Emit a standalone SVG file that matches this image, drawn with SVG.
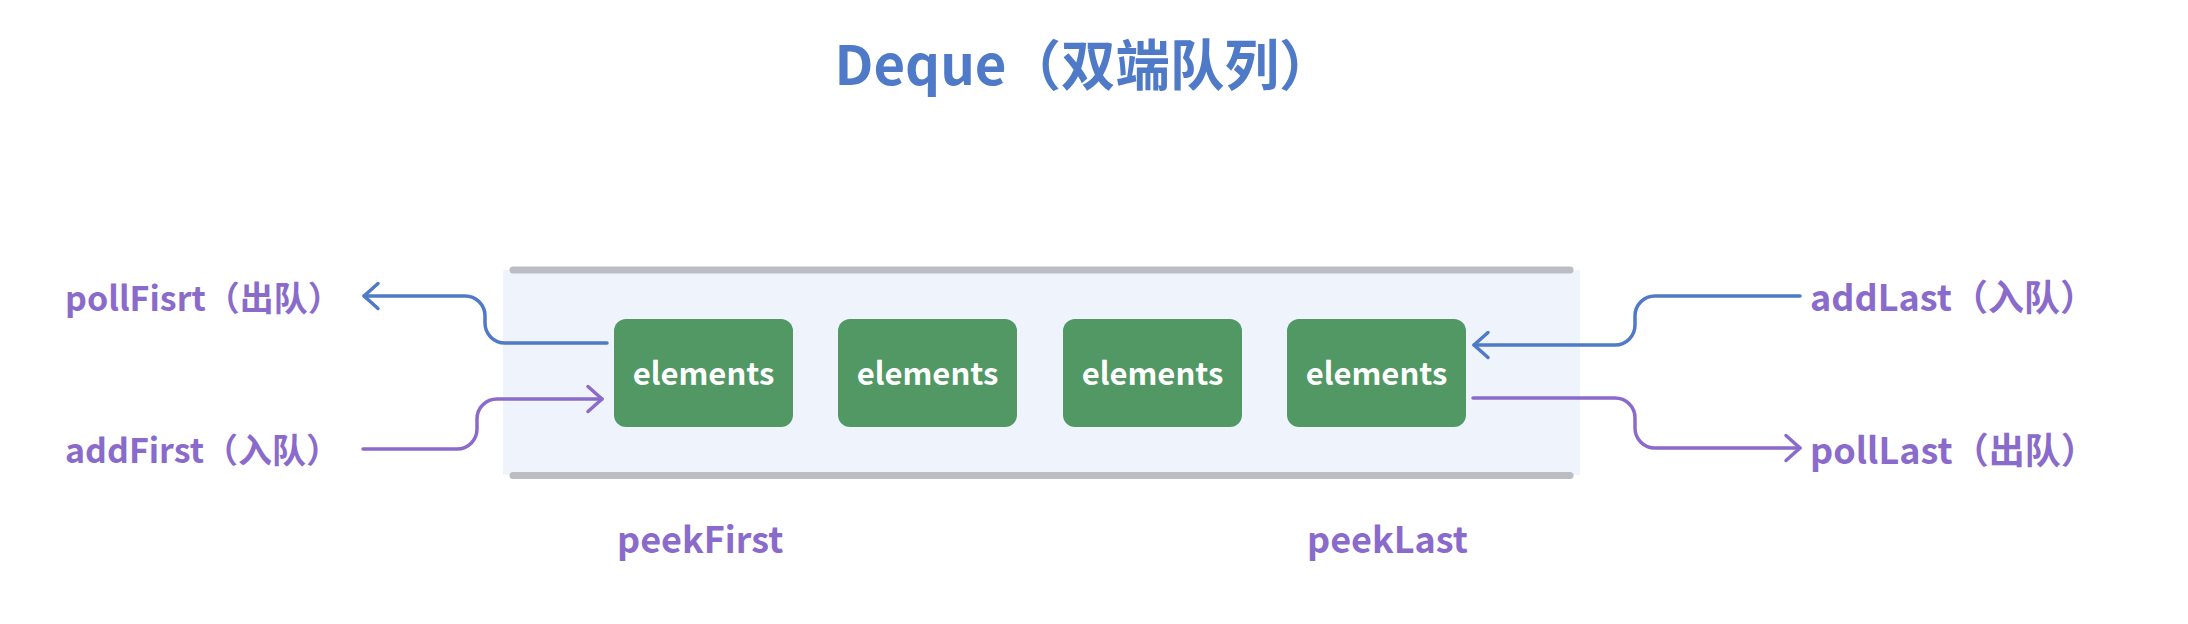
<svg xmlns="http://www.w3.org/2000/svg" width="2188" height="624" viewBox="0 0 2188 624">
<style>
text{font-family:"Noto Sans CJK SC","Noto Sans",sans-serif;font-weight:bold}
.title{font-size:54.5px;fill:#4f7ac8}
.lbl{font-size:34px;fill:#8a6bcb}
.lbl2{font-size:36px;fill:#8a6bcb}
.el{font-size:31px;fill:#ffffff}
.box{fill:#519865}
.bar{stroke:#babdc1;stroke-width:7;stroke-linecap:round;fill:none}
.blue{stroke:#4f7ac8;stroke-width:3.5;fill:none;stroke-linecap:round}
.purple{stroke:#8a6bcb;stroke-width:3.5;fill:none;stroke-linecap:round}
</style>
<defs>
<marker id="ab" markerUnits="userSpaceOnUse" markerWidth="40" markerHeight="40" viewBox="-20 -20 40 40" refX="0" refY="0" orient="auto">
<path d="M-14,-12.5 L0,0 L-14,12.5" fill="none" stroke="#4f7ac8" stroke-width="3.5" stroke-linecap="round" stroke-linejoin="round"/>
</marker>
<marker id="ap" markerUnits="userSpaceOnUse" markerWidth="40" markerHeight="40" viewBox="-20 -20 40 40" refX="0" refY="0" orient="auto">
<path d="M-14,-12.5 L0,0 L-14,12.5" fill="none" stroke="#8a6bcb" stroke-width="3.5" stroke-linecap="round" stroke-linejoin="round"/>
</marker>
</defs>
<rect width="2188" height="624" fill="#ffffff"/>
<text class="title" x="1084" y="85" text-anchor="middle">Deque（双端队列）</text>
<g id="container">
<rect x="503" y="270" width="1077" height="205" fill="#eff4fc"/>
<line class="bar" x1="513" y1="270" x2="1570" y2="270"/>
<line class="bar" x1="513" y1="475.5" x2="1570" y2="475.5"/>
</g>
<g id="el1"><rect class="box" x="614" y="319" width="179" height="108" rx="12"/><text class="el" x="703.5" y="385" text-anchor="middle">elements</text></g>
<g id="el2"><rect class="box" x="838" y="319" width="179" height="108" rx="12"/><text class="el" x="927.5" y="385" text-anchor="middle">elements</text></g>
<g id="el3"><rect class="box" x="1063" y="319" width="179" height="108" rx="12"/><text class="el" x="1152.5" y="385" text-anchor="middle">elements</text></g>
<g id="el4"><rect class="box" x="1287" y="319" width="179" height="108" rx="12"/><text class="el" x="1376.5" y="385" text-anchor="middle">elements</text></g>
<g id="connectors">
<path class="blue" d="M607,343 H505 A20,20 0 0 1 485,323 V316 A20,20 0 0 0 465,296 H364" marker-end="url(#ab)"/>
<path class="purple" d="M363,449 H457 A20,20 0 0 0 477,429 V419 A20,20 0 0 1 497,399 H602" marker-end="url(#ap)"/>
<path class="blue" d="M1800,296 H1655 A20,20 0 0 0 1635,316 V325 A20,20 0 0 1 1615,345 H1474" marker-end="url(#ab)"/>
<path class="purple" d="M1473,398 H1615 A20,20 0 0 1 1635,418 V428 A20,20 0 0 0 1655,448 H1800" marker-end="url(#ap)"/>
</g>
<g id="lbl-pollFirst"><text class="lbl" x="65" y="311">pollFisrt（出队）</text></g>
<g id="lbl-addFirst"><text class="lbl" x="65" y="463">addFirst（入队）</text></g>
<g id="lbl-addLast"><text class="lbl2" x="1810" y="311">addLast（入队）</text></g>
<g id="lbl-pollLast"><text class="lbl2" x="1810" y="464">pollLast（出队）</text></g>
<g id="lbl-peekFirst"><text class="lbl2" x="617" y="553">peekFirst</text></g>
<g id="lbl-peekLast"><text class="lbl2" x="1307" y="553">peekLast</text></g>
</svg>
